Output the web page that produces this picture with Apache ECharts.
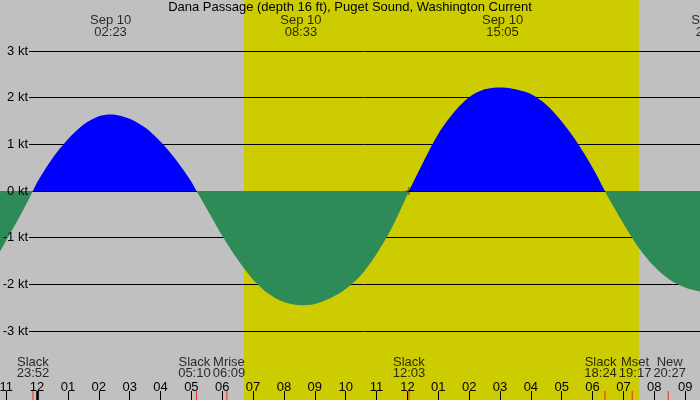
<!DOCTYPE html>
<html>
<head>
<meta charset="utf-8">
<script src="https://cdn.jsdelivr.net/npm/echarts@6/dist/echarts.min.js"></script>
<style>
html,body{margin:0;padding:0;background:#c0c0c0;}
#main{width:700px;height:400px;}
</style>
</head>
<body>
<div id="main"></div>
<script>
// time in hours from Sep 10 00:00, current in knots
var hours = [-1.2,-1.0,-0.5,-0.133,0,0.5,1,1.5,2,2.383,3,3.5,4,4.5,5,5.167,
             5.5,6,6.5,7,7.5,8,8.55,9,9.5,10,10.5,11,11.5,12,12.05,
             12.5,13,13.5,14,14.5,15.083,15.5,16,16.5,17,17.5,18,18.4,
             18.5,19,19.5,20,20.5,21,21.48];
var knots = [-1.30,-1.06,-0.47,0,0.18,0.70,1.11,1.42,1.60,1.64,1.55,1.36,1.06,0.67,0.20,0,
             -0.38,-0.96,-1.47,-1.90,-2.20,-2.38,-2.45,-2.42,-2.30,-2.10,-1.80,-1.35,-0.78,-0.08,0,
             0.60,1.22,1.68,2.01,2.18,2.22,2.18,2.08,1.85,1.49,1.04,0.50,0,
             -0.13,-0.70,-1.22,-1.62,-1.90,-2.07,-2.16];

// max flood / ebb labels along the top
var peakHours = [2.383, 8.55, 15.083, 21.867];
var peakTimes = ['02:23', '08:33', '15:05', '21:52'];
var peakDate = 'Sep 10';

// slack, moon events at the bottom
var eventHours = [-0.133, 5.167, 6.15, 12.05, 18.4, 19.283, 20.45];
var eventNames = ['Slack', 'Slack', 'Mrise', 'Slack', 'Slack', 'Mset', 'New'];
var eventTimes = ['23:52', '05:10', '06:09', '12:03', '18:24', '19:17', '20:27'];

// daylight, date change, current time
var sunrise = 6.7, sunset = 19.5;
var dayStart = [0];
var nowMark = [12.05, 0];

var hourTicks = [];
for (var h = -1; h <= 21; h++) hourTicks.push(h);
var kt = [-3, 3];
var xMin = -1.2, xMax = 21.48;

var font = 'Liberation Sans';

var curve = [];
for (var i = 0; i < hours.length; i++) curve.push([hours[i], knots[i]]);
var peaks = [];
for (var i = 0; i < peakHours.length; i++) peaks.push({value: [peakHours[i], 1], t: peakTimes[i]});
var events = [];
for (var i = 0; i < eventHours.length; i++) events.push({value: [eventHours[i], 0], n: eventNames[i], t: eventTimes[i]});

var labelShift = [];
for (var i = 0; i < eventHours.length; i++) labelShift.push(0);

var myChart = echarts.init(document.getElementById('main'));

var option = {
    backgroundColor: '#c0c0c0',
    animation: false,
    title: {
        text: 'Dana Passage (depth 16 ft), Puget Sound, Washington Current',
        left: 'center',
        top: 1,
        padding: 0,
        textStyle: {fontSize: 13, fontWeight: 'normal', color: '#000', fontFamily: font}
    },
    grid: [
        {left: 0, right: 0, top: 0, bottom: 0, outerBoundsMode: 'none'},
        {left: 0, right: 0, top: 51, bottom: 69, outerBoundsMode: 'none'},
        {left: 29, right: 0, top: 51, bottom: 69, outerBoundsMode: 'none'}
    ],
    xAxis: [
        {
            gridIndex: 0, type: 'value', min: xMin, max: xMax, position: 'bottom', z: 3,
            axisLine: {show: false},
            splitLine: {show: false},
            axisTick: {show: true, inside: true, length: 9, customValues: hourTicks, lineStyle: {color: '#000', width: 1}},
            axisLabel: {
                inside: true, margin: 6, customValues: hourTicks,
                color: '#000', fontSize: 13, fontFamily: font,
                formatter: function (v) {
                    var h = ((Math.round(v) % 12) + 12) % 12;
                    if (h === 0) h = 12;
                    return (h < 10 ? '0' : '') + h;
                }
            }
        },
        {gridIndex: 1, type: 'value', min: xMin, max: xMax, show: false},
        {gridIndex: 2, type: 'value', min: 0, max: 1, show: false}
    ],
    yAxis: [
        {gridIndex: 0, type: 'value', min: 0, max: 1, show: false},
        {
            // kt labels, drawn above the fill
            gridIndex: 1, type: 'value', min: kt[0], max: kt[1], interval: 1, z: 5,
            axisLine: {show: false},
            axisTick: {show: false},
            splitLine: {show: false},
            axisLabel: {inside: true, align: 'right', margin: 28, color: '#000', fontSize: 13, fontFamily: font, formatter: '{value} kt'}
        },
        {
            // grid lines, drawn under the fill
            gridIndex: 2, type: 'value', min: kt[0], max: kt[1], interval: 1, z: 1.5,
            axisLine: {show: false},
            axisTick: {show: false},
            axisLabel: {show: false},
            splitLine: {show: true, lineStyle: {color: '#000', width: 1}}
        }
    ],
    visualMap: {
        show: false,
        type: 'piecewise',
        seriesIndex: 1,
        dimension: 1,
        pieces: [
            {gt: 0, lte: 10, color: '#0000ff'},
            {gte: -10, lte: 0, color: '#2e8b57'}
        ]
    },
    series: [
        {
            // daylight band
            type: 'custom',
            xAxisIndex: 0, yAxisIndex: 0, z: 1,
            data: [[sunrise, sunset]],
            renderItem: function (params, api) {
                var p1 = api.coord([api.value(0), 1]);
                var p2 = api.coord([api.value(1), 0]);
                return {type: 'rect', shape: {x: p1[0], y: p1[1], width: p2[0] - p1[0], height: p2[1] - p1[1]},
                        style: {fill: '#cccc00'}};
            }
        },
        {
            type: 'line',
            xAxisIndex: 1, yAxisIndex: 1, z: 2,
            data: curve,
            smooth: 0.3,
            showSymbol: false,
            lineStyle: {width: 0},
            areaStyle: {opacity: 1}
        },
        {
            type: 'scatter',
            xAxisIndex: 1, yAxisIndex: 1, z: 4,
            data: [nowMark],
            symbol: 'path://M0,5H10M5,0V10',
            symbolSize: [6, 8],
            itemStyle: {color: 'none', borderColor: '#000', borderWidth: 1}
        },
        {
            type: 'scatter',
            xAxisIndex: 0, yAxisIndex: 0, z: 4,
            clip: false,
            data: peaks,
            symbolSize: 1,
            itemStyle: {color: 'rgba(0,0,0,0)'},
            label: {
                show: true, position: 'bottom', distance: 14,
                color: '#000', fontSize: 13, fontFamily: font, lineHeight: 12,
                formatter: function (p) { return peakDate + '\n' + p.data.t; }
            }
        },
        {
            // date change tick
            type: 'scatter',
            xAxisIndex: 0, yAxisIndex: 0, z: 4,
            data: dayStart.map(function (d) { return [d, 0]; }),
            symbol: 'rect',
            symbolSize: [3, 9],
            symbolOffset: [0.5, -4.5],
            itemStyle: {color: '#000'}
        },
        {
            id: 'events',
            type: 'scatter',
            xAxisIndex: 0, yAxisIndex: 0, z: 4,
            data: events,
            symbol: 'rect',
            symbolSize: [1, 9],
            symbolOffset: [0, -4.5],
            itemStyle: {color: '#ff0000'},
            labelLayout: function (p) { return {dx: labelShift[p.dataIndex]}; },
            label: {
                show: true, position: 'top', distance: 12,
                color: '#000', fontSize: 13, fontFamily: font, lineHeight: 11,
                formatter: function (p) { return p.data.n + '\n' + p.data.t; }
            }
        }
    ]
};

myChart.setOption(option);

// push crowded event labels apart
var ctx = document.createElement('canvas').getContext('2d');
ctx.font = '13px "' + font + '"';
var cx = [], w = [], pos = [];
for (var i = 0; i < eventHours.length; i++) {
    cx.push(myChart.convertToPixel({xAxisIndex: 0}, eventHours[i]));
    w.push(Math.max(ctx.measureText(eventNames[i]).width, ctx.measureText(eventTimes[i]).width));
    pos.push(cx[i]);
}
for (var pass = 0; pass < 20; pass++) {
    for (var i = 0; i < pos.length - 1; i++) {
        var over = (pos[i] + w[i] / 2 + 2) - (pos[i + 1] - w[i + 1] / 2);
        if (over > 0) { pos[i] -= over / 2; pos[i + 1] += over / 2; }
    }
}
for (var i = 0; i < pos.length; i++) labelShift[i] = pos[i] - cx[i];
myChart.setOption({series: [{id: 'events', labelLayout: function (p) { return {dx: labelShift[p.dataIndex]}; }}]});
</script>
</body>
</html>
